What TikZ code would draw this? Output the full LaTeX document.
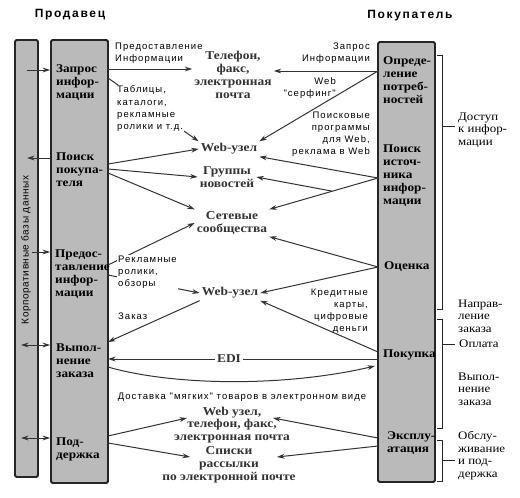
\documentclass[tikz,border=0pt]{standalone}
\usepackage{fontspec}
\setmainfont{Liberation Serif}
\newfontfamily\boxfont[FakeStretch=1.12]{Liberation Serif}
\newfontfamily\plainfont[LetterSpace=11]{Liberation Sans}
\newfontfamily\headfont[LetterSpace=14]{Liberation Sans}
\newfontfamily\dbfont[LetterSpace=6]{Liberation Sans}
\usetikzlibrary{arrows.meta, calc}

\tikzset{
  bar/.style={draw=black!85, line width=1.8pt, fill=black!27, rounded corners=1.5pt, inner sep=0pt},
  stage/.style={font=\boxfont\bfseries\fontsize{11.8}{13}\selectfont, align=left, anchor=west, inner sep=0pt},
  medium/.style={font=\boxfont\bfseries\fontsize{12}{12.8}\selectfont, align=center, text=black!80, inner sep=2pt},
  phase/.style={font=\boxfont\fontsize{11.5}{12.6}\selectfont, align=left, anchor=west, inner sep=0pt},
  note/.style={font=\plainfont\fontsize{9.5}{12}\selectfont, inner sep=0pt},
  heading/.style={font=\headfont\bfseries\fontsize{12}{14}\selectfont},
  conn/.style={->, line width=1pt, draw=black!80},
  brk/.style={line width=0.8pt, draw=black!85},
}

\begin{document}
\begin{tikzpicture}[x=1pt, y=-1pt, >={Stealth[length=7.5pt,width=4.8pt]}]
  \fill[white] (0,0) rectangle (520,498);

  % Headings
  \node[heading] (hsell) at (70,15) {Продавец};
  \node[heading] (hbuy) at (410,16) {Покупатель};

  % Bars: databases, seller, buyer
  \node[bar, minimum width=23pt, minimum height=437pt] (db) at (26.5,258.5) {};
  \node[bar, minimum width=57pt, minimum height=443pt] (seller) at (79.5,261.5) {};
  \node[bar, minimum width=57pt, minimum height=440pt] (buyer) at (406.5,262) {};
  \node[rotate=90, inner sep=0pt, font=\dbfont\fontsize{10}{12}\selectfont] (dbtext) at (26,250) {Корпоративные базы данных};

  % Seller stages
  \node[stage] (zapros) at (56,83) {Запрос\\инфор-\\мации};
  \node[stage] (poisk) at (56,170) {Поиск\\покупа-\\теля};
  \node[stage] (predost) at (55,274.5) {Предос-\\тавление\\инфор-\\мации};
  \node[stage] (vypoln) at (56,361) {Выпол-\\нение\\заказа};
  \node[stage] (podd) at (56,449.5) {Под-\\держка};

  % Buyer stages
  \node[stage] (opred) at (383,80) {Опреде-\\ление\\потреб-\\ностей};
  \node[stage] (poiskist) at (383,176) {Поиск\\источ-\\ника\\инфор-\\мации};
  \node[stage] (ocenka) at (384,267) {Оценка};
  \node[stage] (pokupka) at (383,355) {Покупка};
  \node[stage] (ekspl) at (387,443.5) {Эксплу-\\атация};

  % Phases with brackets
  \foreach \t/\m/\b in {55/126/309, 319/344/428, 440/460/481} {
    \draw[brk] (437,\t) -- (442,\t) -- (442,\b) -- (437,\b);
    \draw[brk] (442,\m) -- (455,\m);
  }
  \node[phase] (dostup) at (458,130) {Доступ\\к инфор-\\мации};
  \node[phase] (naprav) at (458,316) {Направ-\\ление\\заказа};
  \node[phase] (oplata) at (459,344) {Оплата};
  \node[phase] (vypzak) at (458,389) {Выпол-\\нение\\заказа};
  \node[phase] (obsl) at (458,455.5) {Обслу-\\живание\\и под-\\держка};

  % Media in the middle
  \node[medium] (phone) at (233,75) {Телефон,\\факс,\\электронная\\почта};
  \node[medium] (web1) at (229,149) {Web-узел};
  \node[medium] (groups) at (227,177) {Группы\\новостей};
  \node[medium] (comm) at (232,223) {Сетевые\\сообщества};
  \node[medium] (web2) at (230,293) {Web-узел};
  \node[medium] (edi) at (229,359) {EDI};
  \node[medium] (webphone) at (232,425) {Web узел,\\телефон, факс,\\электронная почта};
  \node[medium] (lists) at (229,465) {Списки\\рассылки\\по электронной почте};

  % Ports on the bars
  \coordinate (d1) at (27,70);
  \coordinate (d2) at (27,158);
  \coordinate (d3) at (32,252);
  \coordinate (d4) at (21,345);
  \coordinate (d5) at (21,438);
  \coordinate (sZ) at (108,69);
  \coordinate (sT) at (108,78);
  \coordinate (sP1) at (108,164);
  \coordinate (sP2) at (108,169);
  \coordinate (sP3) at (108,173);
  \coordinate (sR1) at (108,265);
  \coordinate (sR2) at (108,275);
  \coordinate (sV1) at (108,342);
  \coordinate (sV2) at (108,359);
  \coordinate (sV3) at (108,367);
  \coordinate (sD1) at (108,436);
  \coordinate (sD2) at (108,443);
  \coordinate (bO) at (378,71);
  \coordinate (bP) at (378,178);
  \coordinate (bE) at (378,267);
  \coordinate (bK1) at (378,352);
  \coordinate (bK2) at (378,359);
  \coordinate (bK3) at (375,366);
  \coordinate (bX1) at (378,438);
  \coordinate (bX2) at (378,446);
  % arrow tips at the lower media
  \coordinate (tWP) at (187,418);
  \coordinate (tLS) at (190,457);
  \coordinate (tWP2) at (273,418);
  \coordinate (tLS2) at (277,457);

  % Databases <-> seller
  \draw[conn] (d1) -- (d1 -| seller.west);
  \draw[conn] (d2 -| seller.west) -- (d2);
  \draw[conn] (d3) -- (d3 -| seller.west);
  \draw[conn, <->] (d4) -- (d4 -| seller.west);
  \draw[conn, <->] (d5) -- (d5 -| seller.west);

  % Seller -> media
  \draw[conn] (sZ) -- (sZ -| phone.west);
  \draw[conn] (sT) -- (web1.north west);
  \draw[conn] (sP1) -- (web1.west);
  \draw[conn] (sP2) -- (groups.west);
  \draw[conn] (sP3) -- (comm.north west);
  \draw[conn] (sR1) -- (comm.west);
  \draw[conn] (sR2) -- (web2.west);
  \draw[conn] (web2.south west) -- (sV1);
  \draw[conn] (bK2) -- (edi) -- (sV2);
  \draw[conn] (sV3) .. controls (170,385) and (280,388) .. (bK3);
  \draw[conn] (sD1) -- (tWP);
  \draw[conn] (sD2) -- (tLS);

  % Buyer -> media
  \draw[conn] (bO) -- (bO -| phone.east);
  \draw[conn] (bO) -- (web1.north east);
  \draw[conn] (bP) -- (web1.south east);
  \draw[conn] (bP) -- (comm.north east);
  \coordinate (fork) at ($(bP)!0.42!(comm.north east)$);
  \draw[conn] (fork) -- (groups.east);
  \draw[conn] (bE) -- (comm.south east);
  \draw[conn] (bE) -- (web2.east);
  \draw[conn] (bK1) -- (web2.south east);
  \draw[conn] (bX1) -- (tWP2);
  \draw[conn] (bX2) -- (tLS2);

  % Notes on the connectors
  \node[note, anchor=west, align=left] (nInfo) at (115,53) {Предоставление\\Информации};
  \node[note, anchor=west, align=left, fill=white, inner sep=1pt] (nTab) at (116,108.5) {Таблицы,\\каталоги,\\рекламные\\ролики и т.д.};
  \node[note, anchor=east, align=right] (nReq) at (370,53.5) {Запрос\\Информации};
  \node[note, anchor=east, align=right] (nSurf) at (336,88) {Web\\"серфинг"};
  \node[note, anchor=east, align=right] (nSearch) at (370,134) {Поисковые\\программы\\для Web,\\реклама в Web};
  \node[note, anchor=west, align=left, fill=white, inner sep=1pt] (nAds) at (117,272) {Рекламные\\ролики,\\обзоры};
  \node[note, anchor=west] (nOrder) at (118,316) {Заказ};
  \node[note, anchor=east, align=right] (nCard) at (368,311.5) {Кредитные\\карты,\\цифровые\\деньги};
  \node[note] (nSoft) at (242,397) {Доставка "мягких" товаров в электронном виде};
\end{tikzpicture}
\end{document}
